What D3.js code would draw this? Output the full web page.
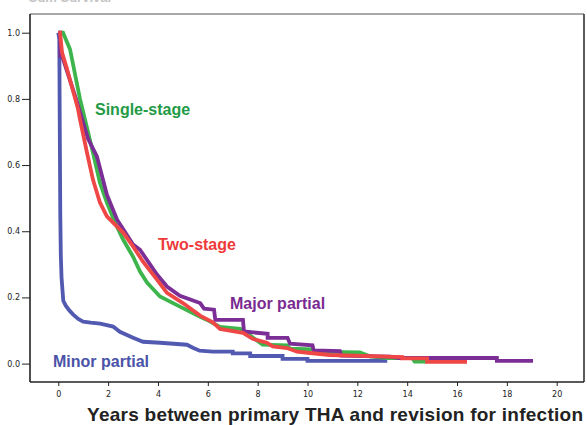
<!DOCTYPE html>
<html>
<head>
<meta charset="utf-8">
<script src="https://cdn.jsdelivr.net/npm/d3@7"></script>
<style>
  html, body { margin: 0; padding: 0; background: #fff; }
  svg { display: block; }
  .axis text { font-family: "DejaVu Sans", sans-serif; font-size: 8px; fill: #222; }
  .axis line { stroke: #222; }
  .axis path { display: none; }
  .curve { fill: none; stroke-width: 3.8; stroke-linejoin: miter; }
  .group-label { font-family: "Liberation Sans", Arial, sans-serif; font-size: 16px; font-weight: bold; }
</style>
</head>
<body>
<svg id="chart" width="587" height="425"></svg>
<script>
// values: [years, cumulative proportion]
var minorPartial = [
  [0, 1.0], [0.04, 0.98], [0.06, 0.7], [0.08, 0.45], [0.1, 0.33], [0.13, 0.26],
  [0.17, 0.22], [0.2, 0.19], [0.3, 0.175], [0.45, 0.16], [0.6, 0.148], [0.8, 0.135],
  [1.0, 0.127], [1.3, 0.124], [1.68, 0.121], [2.2, 0.112], [2.47, 0.096], [3.0, 0.078],
  [3.4, 0.066], [4.08, 0.063], [5.16, 0.057], [5.4, 0.048], [5.67, 0.039], [6.2, 0.036],
  [7.0, 0.036], [7.0, 0.031], [7.7, 0.031], [7.7, 0.023], [9.0, 0.023], [9.0, 0.014],
  [10.0, 0.014], [10.0, 0.008], [13.2, 0.008]
];
var singleStage = [
  [0, 1.0], [0.19, 1.0], [0.47, 0.95], [0.87, 0.8], [1.07, 0.738], [1.39, 0.638],
  [1.67, 0.547], [1.95, 0.487], [2.28, 0.426], [2.6, 0.375], [3.0, 0.323], [3.28, 0.278],
  [3.56, 0.245], [4.08, 0.203], [4.88, 0.172], [5.67, 0.142], [5.97, 0.132], [6.49, 0.111],
  [7.3, 0.105], [7.7, 0.085], [8.2, 0.057], [9.18, 0.055], [9.3, 0.045], [10.2, 0.043],
  [10.3, 0.036], [12.1, 0.034], [12.5, 0.022], [13.2, 0.017], [14.2, 0.017], [14.3, 0.006],
  [14.8, 0.006]
];
var majorPartial = [
  [0, 1.0], [0.07, 1.0], [0.08, 0.93], [0.15, 0.93], [0.67, 0.81], [1.19, 0.68],
  [1.55, 0.626], [1.95, 0.51], [2.36, 0.435], [3.0, 0.36], [3.28, 0.344], [3.96, 0.269],
  [4.36, 0.233], [4.88, 0.205], [5.69, 0.183], [5.85, 0.166], [6.25, 0.163], [6.3, 0.132],
  [7.41, 0.132], [7.45, 0.097], [8.4, 0.09], [8.4, 0.078], [9.2, 0.078], [9.3, 0.06],
  [10.2, 0.055], [10.25, 0.04], [11.3, 0.038], [11.35, 0.024], [13.3, 0.021], [13.7, 0.017],
  [17.6, 0.017], [17.6, 0.008], [19.05, 0.008]
];
var twoStage = [
  [0, 1.0], [0.07, 1.0], [0.15, 0.94], [0.35, 0.89], [0.79, 0.77], [0.87, 0.738],
  [1.15, 0.638], [1.39, 0.556], [1.67, 0.487], [1.95, 0.445], [2.2, 0.426], [2.6, 0.396],
  [3.0, 0.354], [3.4, 0.308], [3.96, 0.254], [4.36, 0.214], [5.0, 0.183], [5.69, 0.145],
  [6.2, 0.125], [6.49, 0.105], [7.41, 0.093], [7.8, 0.075], [8.37, 0.063], [8.6, 0.052],
  [9.18, 0.047], [9.58, 0.036], [10.1, 0.032], [10.9, 0.026], [12.9, 0.022], [13.8, 0.02],
  [13.8, 0.016], [14.8, 0.016], [14.8, 0.005], [16.4, 0.005]
];

var xTicks = [0, 2, 4, 6, 8, 10, 12, 14, 16, 18, 20];
var yTicks = [0, 0.2, 0.4, 0.6, 0.8, 1.0];

var series = [
  { name: "Minor partial", values: minorPartial, color: "#5159b0", text: "#4a53a8", at: [53, 367] },
  { name: "Single-stage", values: singleStage, color: "#3db54c", text: "#239a45", at: [95, 115] },
  { name: "Major partial", values: majorPartial, color: "#7b2e96", text: "#7a2b92", at: [230, 309] },
  { name: "Two-stage", values: twoStage, color: "#ef4646", text: "#ee3a3a", at: [158, 250] }
];

var frame = { left: 30, top: 14, right: 584, bottom: 382 };

var svg = d3.select("#chart");

var x = d3.scaleLinear().domain([0, 20]).range([58.3, 556.7]),
  y = d3.scaleLinear().domain([0, 1]).range([363.6, 32.7]);

// the page title is cut off at the top edge, only its foot shows
svg.append("text")
  .attr("x", 28)
  .attr("y", 1.5)
  .attr("fill", "#c4c4c4")
  .style("font-family", "Liberation Sans, Arial, sans-serif")
  .style("font-size", "13px")
  .style("font-weight", "bold")
  .text("Cum Survival");

svg.append("clipPath")
  .attr("id", "plot-clip")
  .append("rect")
    .attr("x", frame.left)
    .attr("y", frame.top)
    .attr("width", frame.right - frame.left)
    .attr("height", frame.bottom - frame.top);

var line = d3.line()
  .x(function(d) { return x(d[0]); })
  .y(function(d) { return y(d[1]); });

svg.append("g")
  .attr("clip-path", "url(#plot-clip)")
  .selectAll("path")
  .data(series)
  .enter()
  .append("path")
    .attr("class", "curve")
    .attr("stroke", function(d) { return d.color; })
    .attr("d", function(d) { return line(d.values); });

// frame: thin top, darker right, axes left and bottom
svg.append("line")
  .attr("x1", frame.left).attr("x2", frame.right)
  .attr("y1", frame.top).attr("y2", frame.top)
  .attr("stroke", "#555").attr("stroke-width", 1.2);
svg.append("line")
  .attr("x1", frame.right).attr("x2", frame.right)
  .attr("y1", frame.top).attr("y2", frame.bottom)
  .attr("stroke", "#333").attr("stroke-width", 1.6);
svg.append("line")
  .attr("x1", frame.left).attr("x2", frame.left)
  .attr("y1", frame.top).attr("y2", frame.bottom)
  .attr("stroke", "#222").attr("stroke-width", 1.6);
svg.append("line")
  .attr("x1", frame.left).attr("x2", frame.right)
  .attr("y1", frame.bottom).attr("y2", frame.bottom)
  .attr("stroke", "#222").attr("stroke-width", 1.6);

svg.append("g")
  .attr("class", "y axis")
  .attr("transform", "translate(" + frame.left + ",0)")
  .call(d3.axisLeft(y).tickValues(yTicks).tickSize(8).tickPadding(2).tickFormat(d3.format(".1f")));

svg.append("g")
  .attr("class", "x axis")
  .attr("transform", "translate(0," + frame.bottom + ")")
  .call(d3.axisBottom(x).tickValues(xTicks).tickSize(4).tickPadding(5));

svg.selectAll(".group-label")
  .data(series)
  .enter()
  .append("text")
    .attr("class", "group-label")
    .attr("x", function(d) { return d.at[0]; })
    .attr("y", function(d) { return d.at[1]; })
    .attr("fill", function(d) { return d.text; })
    .text(function(d) { return d.name; });

svg.append("text")
  .attr("x", 87)
  .attr("y", 421)
  .attr("textLength", 496)
  .style("font-family", "Liberation Sans, Arial, sans-serif")
  .style("font-size", "19px")
  .style("font-weight", "bold")
  .attr("fill", "#222")
  .text("Years between primary THA and revision for infection");
</script>
</body>
</html>
